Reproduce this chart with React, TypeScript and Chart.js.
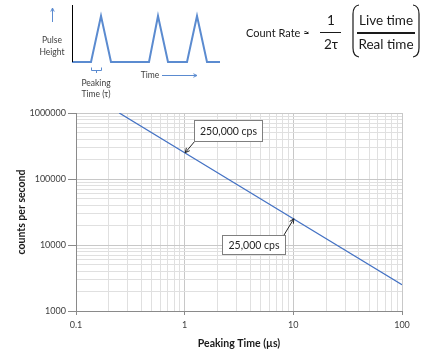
import React, { useEffect, useRef } from 'react';
import { Chart, registerables } from 'chart.js';
Chart.register(...registerables);

// ---- data ----
const peakingTimes = [0.25, 1, 10, 100];
const countRates = [1000000, 250000, 25000, 2500];
const xMajorTicks = [0.1, 1, 10, 100];
const yMajorTicks = [1000, 10000, 100000, 1000000];
const minorSteps = [1, 2, 3, 4, 5, 6, 7, 8, 9];
const calloutTimes = [1, 10];
const calloutRates = [250000, 25000];
const calloutLabels = ['250,000 cps', '25,000 cps'];
const pulseTime = [0, 19, 29, 39, 77, 86, 96, 115, 125, 135, 148];
const pulseHeight = [0, 0, 1, 0, 0, 1, 0, 0, 1, 0, 0];

const FONT = 'Lato, "Open Sans", sans-serif';
const BLUE = '#4472C4';

function buildTicks(majors: number[]) {
  const out: { value: number; major: boolean }[] = [];
  majors.forEach((m, i) => {
    if (i === majors.length - 1) out.push({ value: m, major: true });
    else minorSteps.forEach((k) => out.push({ value: m * k, major: k === 1 }));
  });
  return out;
}

function arrow(ctx: CanvasRenderingContext2D, x1: number, y1: number, x2: number, y2: number, color: string, head = 5) {
  ctx.save();
  ctx.strokeStyle = color;
  ctx.lineWidth = 1;
  ctx.beginPath();
  ctx.moveTo(x1, y1);
  ctx.lineTo(x2, y2);
  const a = Math.atan2(y2 - y1, x2 - x1);
  ctx.moveTo(x2 - head * Math.cos(a - 0.45), y2 - head * Math.sin(a - 0.45));
  ctx.lineTo(x2, y2);
  ctx.lineTo(x2 - head * Math.cos(a + 0.45), y2 - head * Math.sin(a + 0.45));
  ctx.stroke();
  ctx.restore();
}

const calloutLayout = [
  { dx: 9, dy: -33, w: 68, h: 21, ax: 'left', ay: 'bottom' },
  { dx: -71, dy: 16, w: 63, h: 19, ax: 'right', ay: 'top' },
];

const calloutPlugin = {
  id: 'callouts',
  afterDatasetsDraw(chart: any) {
    const { ctx, scales } = chart;
    const x = scales.x, y = scales.y;
    calloutTimes.forEach((t, i) => {
      const px = x.getPixelForValue(t);
      const py = y.getPixelForValue(calloutRates[i]);
      const L = calloutLayout[i];
      const bx = Math.round(px + L.dx), by = Math.round(py + L.dy);
      const sx = L.ax === 'left' ? bx + 1 : bx + L.w - 1;
      const sy = L.ay === 'bottom' ? by + L.h : by;
      arrow(ctx, sx, sy, px + 0.5, py, '#262626', 5);
      ctx.save();
      ctx.fillStyle = '#ffffff';
      ctx.fillRect(bx + 0.5, by + 0.5, L.w, L.h);
      ctx.strokeStyle = '#7f7f7f';
      ctx.lineWidth = 1;
      ctx.strokeRect(bx + 0.5, by + 0.5, L.w, L.h);
      ctx.fillStyle = '#262626';
      ctx.font = '10.5px ' + FONT;
      ctx.textAlign = 'center';
      ctx.textBaseline = 'middle';
      ctx.fillText(calloutLabels[i], bx + L.w / 2 + 0.5, by + L.h / 2 + 1);
      ctx.restore();
    });
  },
};

const formulaPlugin = {
  id: 'formula',
  afterDraw(chart: any) {
    const ctx: CanvasRenderingContext2D = chart.ctx;
    ctx.save();
    ctx.fillStyle = '#1a1a1a';
    ctx.strokeStyle = '#1a1a1a';
    ctx.textBaseline = 'middle';
    ctx.font = '11px ' + FONT;
    ctx.textAlign = 'left';
    ctx.fillText('Count Rate \u2248', 246, 33);
    ctx.font = '13.5px ' + FONT;
    ctx.textAlign = 'center';
    ctx.fillText('1', 331, 21);
    ctx.fillText('2\u03c4', 331, 45);
    ctx.fillText('Live time', 386, 21);
    ctx.fillText('Real time', 386, 45);
    ctx.lineWidth = 1;
    ctx.beginPath();
    ctx.moveTo(320, 32.5);
    ctx.lineTo(341, 32.5);
    ctx.stroke();
    ctx.lineWidth = 2;
    ctx.beginPath();
    ctx.moveTo(357, 33);
    ctx.lineTo(415, 33);
    ctx.stroke();
    ctx.lineWidth = 1.2;
    ctx.beginPath();
    ctx.moveTo(359, 5);
    ctx.quadraticCurveTo(353, 6, 353, 14);
    ctx.lineTo(353, 48);
    ctx.quadraticCurveTo(353, 56, 359, 57);
    ctx.moveTo(413, 5);
    ctx.quadraticCurveTo(419, 6, 419, 14);
    ctx.lineTo(419, 48);
    ctx.quadraticCurveTo(419, 56, 413, 57);
    ctx.stroke();
    ctx.restore();
  },
};

const pulseDecor = {
  id: 'pulseDecor',
  afterDraw(chart: any) {
    const ctx: CanvasRenderingContext2D = chart.ctx;
    const { x, y } = chart.scales;
    const x0 = Math.round(x.getPixelForValue(0)) + 0.5;
    ctx.save();
    ctx.strokeStyle = '#000';
    ctx.lineWidth = 1;
    ctx.beginPath();
    ctx.moveTo(x0, chart.chartArea.top);
    ctx.lineTo(x0, y.getPixelForValue(0));
    ctx.stroke();
    arrow(ctx, 52.5, 22, 52.5, 8, '#5b8bd0', 4);
    ctx.fillStyle = '#404040';
    ctx.font = '8.5px ' + FONT;
    ctx.textAlign = 'center';
    ctx.textBaseline = 'middle';
    ctx.fillText('Pulse', 52, 40);
    ctx.fillText('Height', 52, 52);
    ctx.fillText('Peaking', 96, 83);
    ctx.fillText('Time (\u03c4)', 96, 94);
    ctx.fillText('Time', 150, 75);
    arrow(ctx, 162, 75.5, 197, 75.5, '#5b8bd0', 4);
    // bracket
    const bl = x.getPixelForValue(pulseTime[1]);
    const br = x.getPixelForValue(pulseTime[2]);
    ctx.strokeStyle = '#5b8bd0';
    ctx.beginPath();
    ctx.moveTo(bl + 0.5, 67.5);
    ctx.lineTo(bl + 0.5, 70.5);
    ctx.lineTo(br + 0.5, 70.5);
    ctx.lineTo(br + 0.5, 67.5);
    ctx.moveTo((bl + br) / 2 + 0.5, 70.5);
    ctx.lineTo((bl + br) / 2 + 0.5, 73);
    ctx.stroke();
    ctx.restore();
  },
};

export default function App() {
  const mainRef = useRef<HTMLCanvasElement>(null);
  const pulseRef = useRef<HTMLCanvasElement>(null);

  useEffect(() => {
    document.body.style.margin = '0';
    Chart.defaults.font.family = FONT;
    const xTicks = buildTicks(xMajorTicks);
    const yTicks = buildTicks(yMajorTicks);
    const gridColor = (c: any) => (c.tick && c.tick.major ? '#c8c8c8' : '#e0e0e0');
    const tickColor = (c: any) => (c.tick && c.tick.major ? '#8a8a8a' : 'rgba(0,0,0,0)');

    const main = new Chart(mainRef.current!, {
      type: 'line',
      data: {
        datasets: [
          {
            data: peakingTimes.map((t, i) => ({ x: t, y: countRates[i] })),
            borderColor: BLUE,
            borderWidth: 1.3,
            pointRadius: 0,
            fill: false,
            tension: 0,
          },
        ],
      },
      options: {
        responsive: false,
        animation: false,
        devicePixelRatio: 1,
        layout: { padding: { top: 113, right: 22, left: 15, bottom: 0 } },
        plugins: { legend: { display: false }, tooltip: { enabled: false } },
        scales: {
          x: {
            type: 'logarithmic',
            min: 0.1,
            max: 100,
            afterBuildTicks: (s: any) => { s.ticks = xTicks.map((t) => ({ ...t })); },
            afterFit: (s: any) => { s.height = 43; },
            ticks: {
              autoSkip: false,
              maxRotation: 0,
              padding: 5,
              color: '#404040',
              font: { size: 9, family: FONT },
              callback: (v: any, i: number, ticks: any[]) => (ticks[i].major ? String(v) : ''),
            },
            grid: { color: gridColor, tickColor, tickLength: 4, lineWidth: 1 },
            border: { color: '#8a8a8a' },
            title: {
              display: true,
              text: 'Peaking Time (\u00b5s)',
              color: '#1a1a1a',
              font: { size: 10.5, weight: 'bold', family: FONT },
              padding: { top: 0, bottom: 4 },
            },
          },
          y: {
            type: 'logarithmic',
            min: 1000,
            max: 1000000,
            afterBuildTicks: (s: any) => { s.ticks = yTicks.map((t) => ({ ...t })); },
            afterFit: (s: any) => { s.width = 61; },
            ticks: {
              autoSkip: false,
              padding: 2,
              color: '#404040',
              font: { size: 9, family: FONT },
              callback: (v: any, i: number, ticks: any[]) => (ticks[i].major ? String(v) : ''),
            },
            grid: { color: gridColor, tickColor, tickLength: 8, lineWidth: 1 },
            border: { color: '#8a8a8a' },
            title: {
              display: true,
              text: 'counts per second',
              color: '#1a1a1a',
              font: { size: 10.5, weight: 'bold', family: FONT },
              padding: { top: 0, bottom: 0 },
            },
          },
        },
      },
      plugins: [calloutPlugin, formulaPlugin],
    } as any);

    const pulse = new Chart(pulseRef.current!, {
      type: 'line',
      data: {
        datasets: [
          {
            data: pulseTime.map((t, i) => ({ x: t, y: pulseHeight[i] })),
            borderColor: '#5b8bd0',
            borderWidth: 2,
            pointRadius: 0,
            tension: 0,
            clip: false,
          },
        ],
      },
      options: {
        responsive: false,
        animation: false,
        devicePixelRatio: 1,
        layout: { padding: { left: 72, top: 5, right: 10, bottom: 38 } },
        plugins: { legend: { display: false }, tooltip: { enabled: false } },
        scales: {
          x: { type: 'linear', min: 0, max: 148, display: false },
          y: { type: 'linear', min: 0, max: 1.24, display: false },
        },
      },
      plugins: [pulseDecor],
    } as any);

    return () => {
      main.destroy();
      pulse.destroy();
    };
  }, []);

  return (
    <div style={{ position: 'relative', width: 424, height: 354, background: '#fff' }}>
      <canvas ref={mainRef} width={424} height={354} style={{ position: 'absolute', left: 0, top: 0 }} />
      <canvas ref={pulseRef} width={230} height={100} style={{ position: 'absolute', left: 0, top: 0 }} />
    </div>
  );
}
